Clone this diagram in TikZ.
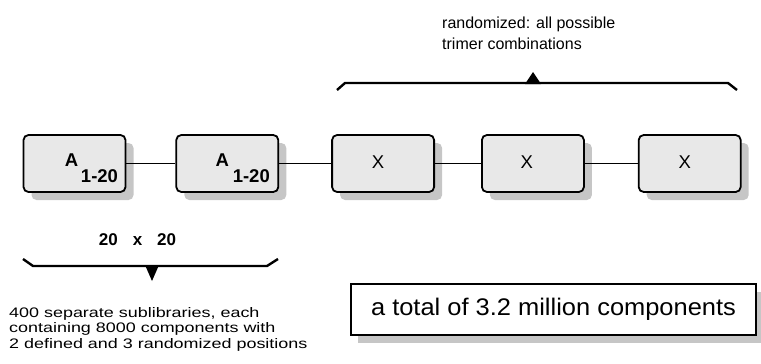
\documentclass[tikz,border=0pt]{standalone}
\usepackage{fontspec}
\setmainfont{Liberation Sans}
\usetikzlibrary{positioning, shadows}

\begin{document}
\begin{tikzpicture}[
    x=1pt, y=-1pt,
    unit/.style={draw, line width=1.8pt, rounded corners=5pt, fill=gray!18, minimum width=102pt, minimum height=57pt, inner sep=0pt, drop shadow={shadow xshift=8pt, shadow yshift=-8pt, fill=gray!45, opacity=1}},
    total/.style={draw, line width=1.8pt, fill=white, minimum width=405pt, minimum height=51pt, inner sep=0pt, font=\fontsize{24}{28}\selectfont\addfontfeature{FakeStretch=1.06}, drop shadow={shadow xshift=7pt, shadow yshift=-8pt, fill=gray!45, opacity=1}},
    sym/.style={font=\fontsize{18.5}{20}\selectfont\bfseries, inner sep=0pt},
    rnd/.style={font=\fontsize{18.5}{20}\selectfont, inner sep=0pt},
    note/.style={font=\fontsize{13.8}{15.7}\selectfont\addfontfeature{FakeStretch=1.3}, align=left, inner sep=0pt, anchor=north west},
    topnote/.style={font=\fontsize{16}{21}\selectfont, align=left, inner sep=0pt, anchor=north west},
    link/.style={line width=1.4pt},
    brace/.style={line width=2.4pt, line join=round},
]
    \useasboundingbox (0,0) rectangle (761,364);

    % Defined positions
    \node[unit] (a1) at (74.5,163.5) {};
    \node[unit, right=49pt of a1] (a2) {};

    % Randomized positions
    \node[unit, right=52pt of a2] (x1) {};
    \node[unit, right=46pt of x1] (x2) {};
    \node[unit, right=53pt of x2] (x3) {};

    % Labels
    \node[sym] (a1name) at ([xshift=-3pt, yshift=3.5pt]a1.center) {A};
    \node[sym] (a1sub) at ([xshift=25pt, yshift=-13pt]a1.center) {1-20};
    \node[sym] (a2name) at ([xshift=-5pt, yshift=3.5pt]a2.center) {A};
    \node[sym] (a2sub) at ([xshift=24pt, yshift=-13pt]a2.center) {1-20};
    \node[rnd] (x1name) at ([xshift=-5pt, yshift=1pt]x1.center) {X};
    \node[rnd] (x2name) at ([xshift=-6pt, yshift=1pt]x2.center) {X};
    \node[rnd] (x3name) at ([xshift=-5pt, yshift=1pt]x3.center) {X};

    % Chain
    \draw[link] (a1) -- (a2);
    \draw[link] (a2) -- (x1);
    \draw[link] (x1) -- (x2);
    \draw[link] (x2) -- (x3);

    % Top brace
    \draw[brace] (337,90) -- (345,83) -- (728,83) -- (737,90);
    \fill (525,84) -- (541,84) -- (533,72) -- cycle;
    \node[topnote] (trimer) at (442,17) {randomized: all possible\\trimer combinations};

    % Bottom brace
    \node[sym, font=\fontsize{17}{18}\selectfont\bfseries] (count) at (137.5,239.5) {20\hspace{15pt}x\hspace{15pt}20};
    \draw[brace] (23,259) -- (33,266) -- (267,266) -- (278,259);
    \fill (145,265) -- (159,265) -- (152,281) -- cycle;
    \node[note] (sublib) at (9,307) {400 separate sublibraries, each\\containing 8000 components with\\2 defined and 3 randomized positions};

    % Result
    \node[total] (result) at (553.5,309.5) {a total of 3.2 million components};
\end{tikzpicture}
\end{document}
